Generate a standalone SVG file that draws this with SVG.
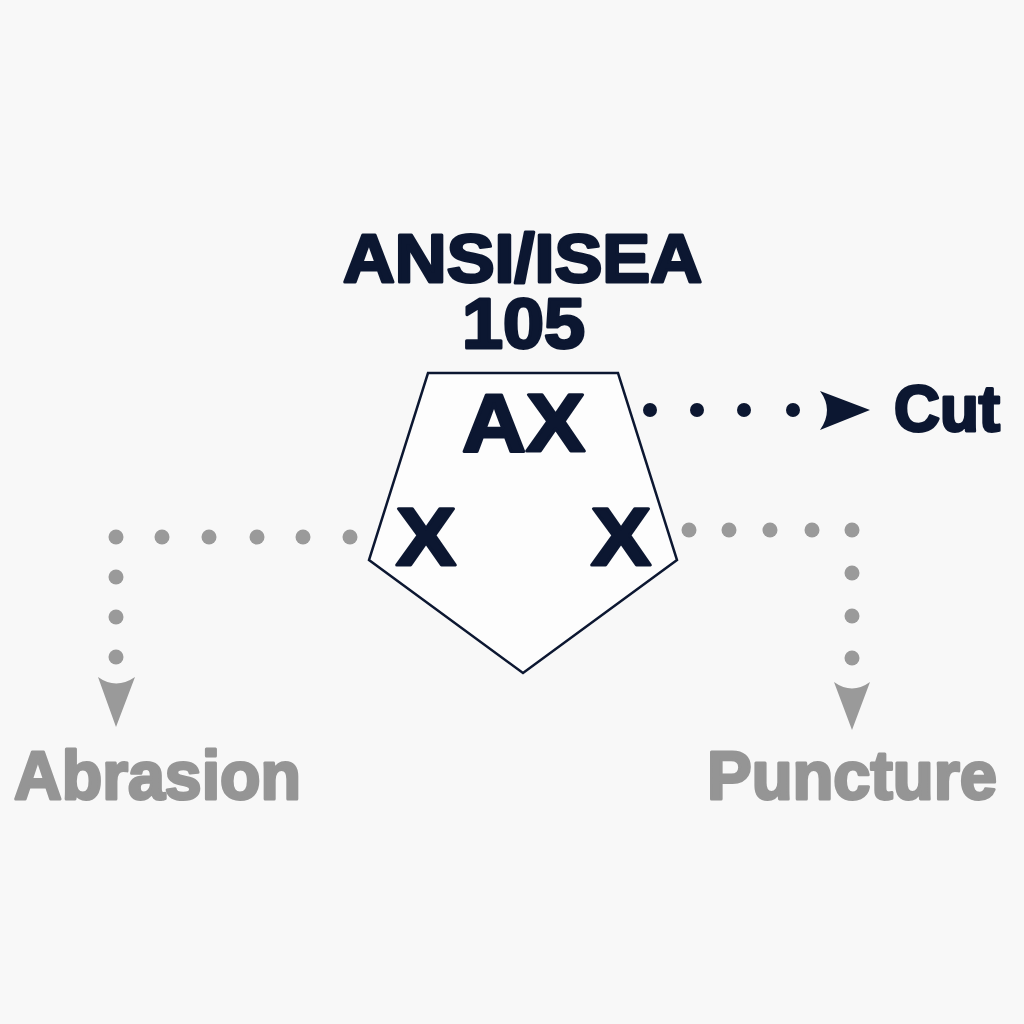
<svg xmlns="http://www.w3.org/2000/svg" width="1024" height="1024" viewBox="0 0 1024 1024">
<style>
.dk{font-family:"Liberation Sans",Arial,sans-serif;font-weight:bold;fill:#0c1731;stroke:#0c1731;stroke-width:3;stroke-linejoin:round}
.gr{font-family:"Liberation Sans",Arial,sans-serif;font-weight:bold;fill:#959595;stroke:#959595;stroke-width:3;stroke-linejoin:round}
.dd{fill:#0c1731}
.gd{fill:#9a9a9a}
</style>
<rect width="1024" height="1024" fill="#f8f8f8"/>
<g id="title">
<text class="dk" x="343" y="282" font-size="68" textLength="359" lengthAdjust="spacingAndGlyphs">ANSI/ISEA</text>
<text class="dk" x="462" y="348" font-size="70" textLength="123" lengthAdjust="spacingAndGlyphs">105</text>
</g>
<g id="pentagon">
<polygon points="428,373 618,373 677,560 523,673 369,560" fill="#fdfdfd" stroke="#0c1731" stroke-width="2.5" stroke-linejoin="miter"/>
<text class="dk" x="462" y="451" font-size="81" textLength="123" lengthAdjust="spacingAndGlyphs">AX</text>
<text class="dk" x="396" y="565" font-size="81" textLength="60" lengthAdjust="spacingAndGlyphs">X</text>
<text class="dk" x="591" y="565" font-size="81" textLength="60" lengthAdjust="spacingAndGlyphs">X</text>
</g>
<g id="connectors">
<g id="to-cut">
<circle class="dd" cx="650" cy="410" r="7"/>
<circle class="dd" cx="697" cy="410" r="7"/>
<circle class="dd" cx="744" cy="410" r="7"/>
<circle class="dd" cx="793" cy="410" r="7"/>
<path class="dd" d="M820,391 L870,410 L820,430 Q834,410 820,391 Z"/>
</g>
<g id="to-abrasion">
<circle class="gd" cx="350" cy="537" r="7.5"/>
<circle class="gd" cx="303" cy="537" r="7.5"/>
<circle class="gd" cx="257" cy="537" r="7.5"/>
<circle class="gd" cx="209" cy="537" r="7.5"/>
<circle class="gd" cx="162" cy="537" r="7.5"/>
<circle class="gd" cx="116" cy="537" r="7.5"/>
<circle class="gd" cx="116" cy="577" r="7.5"/>
<circle class="gd" cx="116" cy="617" r="7.5"/>
<circle class="gd" cx="116" cy="657" r="7.5"/>
<path class="gd" d="M98,677 Q116,690 135,677 L116,727 Z"/>
</g>
<g id="to-puncture">
<circle class="gd" cx="689" cy="530" r="7.5"/>
<circle class="gd" cx="729" cy="530" r="7.5"/>
<circle class="gd" cx="770" cy="530" r="7.5"/>
<circle class="gd" cx="812" cy="530" r="7.5"/>
<circle class="gd" cx="852" cy="530" r="7.5"/>
<circle class="gd" cx="852" cy="573" r="7.5"/>
<circle class="gd" cx="852" cy="616" r="7.5"/>
<circle class="gd" cx="852" cy="658" r="7.5"/>
<path class="gd" d="M834,682 Q852,695 870,682 L852,730 Z"/>
</g>
</g>
<g id="cut">
<text class="dk" x="894" y="431" font-size="64" textLength="106" lengthAdjust="spacingAndGlyphs">Cut</text>
</g>
<g id="abrasion">
<text class="gr" x="14" y="799" font-size="68" textLength="287" lengthAdjust="spacingAndGlyphs">Abrasion</text>
</g>
<g id="puncture">
<text class="gr" x="707" y="799" font-size="68" textLength="290" lengthAdjust="spacingAndGlyphs">Puncture</text>
</g>
</svg>
